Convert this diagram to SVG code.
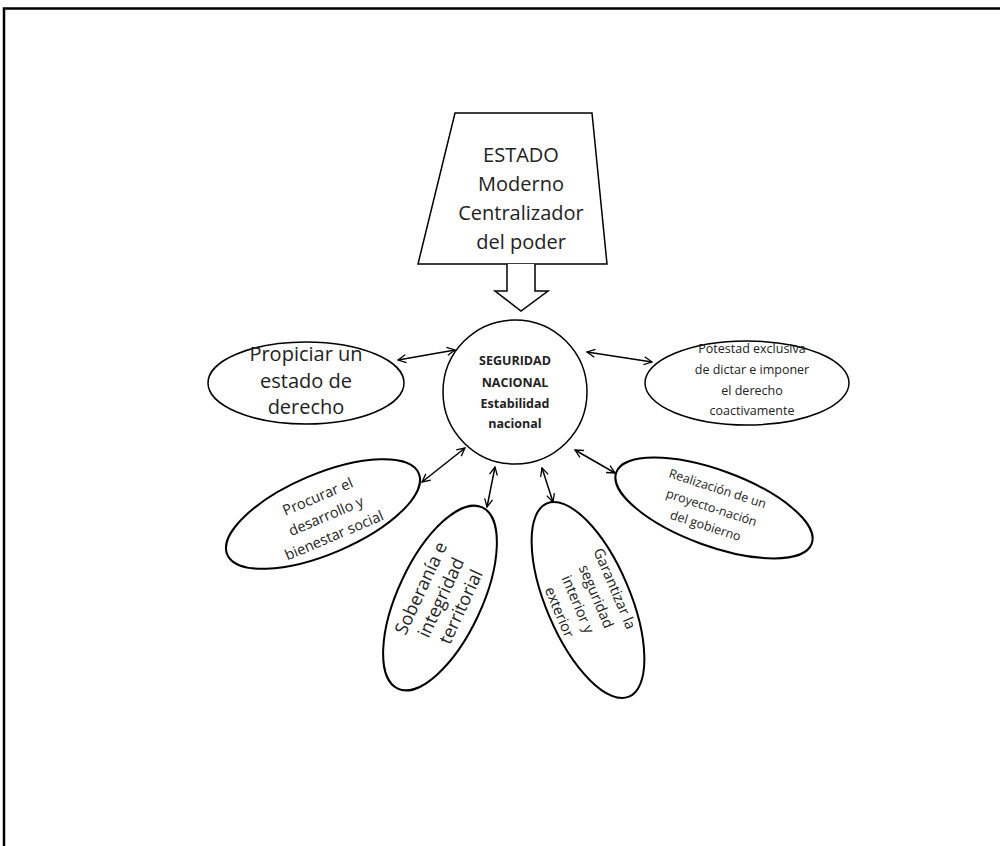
<svg xmlns="http://www.w3.org/2000/svg" width="1000" height="846" viewBox="0 0 1000 846">
<defs>
<marker id="ah" viewBox="0 0 10 10" refX="9" refY="5" markerWidth="10" markerHeight="10" markerUnits="userSpaceOnUse" orient="auto-start-reverse">
<path d="M1,1 L9,5 L1,9" fill="none" stroke="#000" stroke-width="1.3"/>
</marker>
<style>
.shape{fill:#fff;stroke:#000;stroke-width:2}
.thin{fill:#fff;stroke:#000;stroke-width:1.5}
.conn{stroke:#000;stroke-width:1.5;fill:none;marker-start:url(#ah);marker-end:url(#ah)}
text{font-family:"Open Sans","Liberation Sans",sans-serif;fill:#222;text-anchor:middle}
.big{font-size:20px}
.sob{font-size:18px}
.mid{font-size:14.5px}
.sm{font-size:12.5px}
.bold{font-size:12.5px;font-weight:bold}
</style>
</defs>
<rect width="1000" height="846" fill="#fff"/>
<path d="M4,846 V8.5 H1000" fill="none" stroke="#000" stroke-width="2.5"/>

<g id="estado">
<path class="thin" d="M455,113 H592 L607,264 H418 Z"/>
<text class="big" x="521" y="162">ESTADO</text>
<text class="big" x="521" y="191">Moderno</text>
<text class="big" x="521" y="220">Centralizador</text>
<text class="big" x="521" y="249">del poder</text>
</g>

<g id="flecha">
<path class="thin" d="M507,264 V291 H495 L521,311 L548,291 H535 V264"/>
</g>

<g id="seguridad">
<circle class="thin" cx="515" cy="392" r="72"/>
<text class="bold" x="515" y="365">SEGURIDAD</text>
<text class="bold" x="515" y="387">NACIONAL</text>
<text class="bold" x="515" y="408">Estabilidad</text>
<text class="bold" x="515" y="428">nacional</text>
</g>

<g id="propiciar">
<ellipse class="thin" cx="306" cy="383" rx="98" ry="41"/>
<text class="big" x="306" y="361">Propiciar un</text>
<text class="big" x="306" y="388">estado de</text>
<text class="big" x="306" y="414">derecho</text>
</g>

<g id="potestad">
<ellipse class="thin" cx="747" cy="383" rx="102" ry="42"/>
<text class="sm" x="752" y="353">Potestad exclusiva</text>
<text class="sm" x="752" y="374">de dictar e imponer</text>
<text class="sm" x="752" y="395">el derecho</text>
<text class="sm" x="752" y="415">coactivamente</text>
</g>

<g id="procurar">
<ellipse class="shape" cx="0" cy="0" rx="104" ry="40" transform="translate(323,514) rotate(-23)"/>
<g transform="translate(326,516) rotate(-23)">
<text class="mid" x="0" y="-16">Procurar el</text>
<text class="mid" x="0" y="5">desarrollo y</text>
<text class="mid" x="0" y="26">bienestar  social</text>
</g>
</g>

<g id="soberania">
<ellipse class="shape" cx="0" cy="0" rx="100" ry="42" transform="translate(440,598) rotate(-65)"/>
<g transform="translate(442,598) rotate(-65)">
<text class="sob" x="0" y="-17">Soberanía e</text>
<text class="sob" x="0" y="5">integridad</text>
<text class="sob" x="0" y="27">territorial</text>
</g>
</g>

<g id="garantizar">
<ellipse class="shape" cx="0" cy="0" rx="105" ry="42" transform="translate(588,600) rotate(67)"/>
<g transform="translate(588,600) rotate(67)">
<text class="mid" x="0" y="-24">Garantizar la</text>
<text class="mid" x="0" y="-4">seguridad</text>
<text class="mid" x="0" y="16">interior y</text>
<text class="mid" x="0" y="36">exterior</text>
</g>
</g>

<g id="realizacion">
<ellipse class="shape" cx="0" cy="0" rx="104" ry="38" transform="translate(714,508) rotate(20)"/>
<g transform="translate(712,506) rotate(18)">
<text class="sm" x="0" y="-14">Realización de un</text>
<text class="sm" x="0" y="6">proyecto-nación</text>
<text class="sm" x="0" y="25">del gobierno</text>
</g>
</g>

<g id="conectores">
<line class="conn" x1="398" y1="360" x2="455" y2="350"/>
<line class="conn" x1="587" y1="352" x2="652" y2="362"/>
<line class="conn" x1="422" y1="482" x2="465" y2="448"/>
<line class="conn" x1="495" y1="467" x2="487" y2="507"/>
<line class="conn" x1="542" y1="468" x2="553" y2="502"/>
<line class="conn" x1="575" y1="450" x2="615" y2="473"/>
</g>
</svg>
